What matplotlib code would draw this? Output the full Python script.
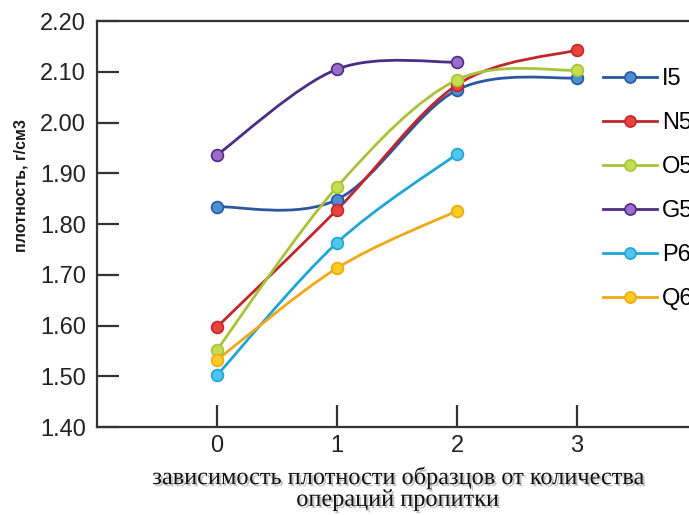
import numpy as np
import matplotlib
matplotlib.use("Agg")
import matplotlib.pyplot as plt
from matplotlib.path import Path
from matplotlib.patches import PathPatch
from matplotlib.lines import Line2D
import matplotlib.patheffects as pe

plt.rcParams['font.family'] = ['Liberation Sans', 'DejaVu Sans']

# operations count (x) and density per sample series
ops = [0, 1, 2, 3]
names = ["I5", "N5", "O5", "G5", "P6", "Q6"]
i5 = [1.834, 1.848, 2.064, 2.088]
n5 = [1.597, 1.828, 2.074, 2.143]
o5 = [1.552, 1.873, 2.084, 2.103]
g5 = [1.936, 2.105, 2.119]
p6 = [1.502, 1.763, 1.938]
q6 = [1.532, 1.713, 1.826]
series = [i5, n5, o5, g5, p6, q6]

line_cols = ["#2c56a0", "#c0262c", "#a6c43a", "#4b2c86", "#1fa6d6", "#f0a818"]
mark_cols = ["#4a8fd0", "#e8443c", "#c8dc50", "#9b6cc8", "#50c4ec", "#f8cc22"]


def smooth_path(xs, ys):
    # excel-like smoothed line (cubic bezier through the points)
    pts = np.column_stack([xs, ys]).astype(float)
    n = len(pts)
    verts = [pts[0]]
    codes = [Path.MOVETO]
    for k in range(n - 1):
        p0 = pts[k - 1] if k > 0 else pts[k]
        p1 = pts[k]
        p2 = pts[k + 1]
        p3 = pts[k + 2] if k + 2 < n else pts[k + 1]
        c1 = p1 + (p2 - p0) / 6.0
        c2 = p2 - (p3 - p1) / 6.0
        verts += [c1, c2, p2]
        codes += [Path.CURVE4] * 3
    return Path(verts, codes)


fig = plt.figure(figsize=(6.89, 5.15), dpi=100)
ax = fig.add_axes([97 / 689, 1 - 427 / 515, 600 / 689, 406 / 515])

handles = []
for vals, name, lc, mc in zip(series, names, line_cols, mark_cols):
    xs = ops[:len(vals)]
    ax.add_patch(PathPatch(smooth_path(xs, vals), fill=False, edgecolor=lc,
                           lw=2.0, zorder=2))
    ax.plot(xs, vals, ls='none', marker='o', ms=8.5, mfc=mc, mec=lc,
            mew=1.2, zorder=3)
    handles.append(Line2D([], [], color=lc, lw=2.0, marker='o', ms=8,
                          mfc=mc, mec=lc, mew=1.2))

ax.set_xlim(-1.0, -1.0 + 600 / 120)
ax.set_ylim(1.40, 2.20)
ax.set_xticks(ops)
ax.set_yticks(np.arange(1.40, 2.201, 0.10))
ax.set_yticklabels(["%.2f" % v for v in np.arange(1.40, 2.201, 0.10)])
ax.tick_params(axis='both', direction='in', length=16, width=1.6,
               color='#333333', labelsize=17, labelcolor='#222222')
ax.tick_params(axis='y', pad=8)
ax.tick_params(axis='x', pad=6)
ax.spines['right'].set_visible(False)
for s in ['left', 'bottom', 'top']:
    ax.spines[s].set_linewidth(1.6)
    ax.spines[s].set_color('#333333')

# legend runs off the right edge, as in the source image
fig.legend(handles, names, loc='upper left', bbox_to_anchor=(603 / 689, 1 - 68 / 515),
           frameon=False, fontsize=17, handlelength=2.3, handletextpad=0.2,
           labelspacing=0.93, borderaxespad=0, borderpad=0)

fig.text(21 / 689, 1 - 186 / 515, "плотность, г/см3", rotation=90,
         ha='center', va='center', fontsize=11.5, fontweight='bold', color='#1a1a1a')

fig.text(397 / 689, 1 - 489 / 515,
         "зависимость плотности образцов от количества\nопераций пропитки",
         ha='center', va='center', fontsize=17.5, family='Liberation Serif',
         linespacing=1.05, color='#111111',
         path_effects=[pe.withSimplePatchShadow(offset=(1.5, -1.5),
                                                 shadow_rgbFace='#888888', alpha=0.5)])

fig.savefig("out.png", dpi=100)
